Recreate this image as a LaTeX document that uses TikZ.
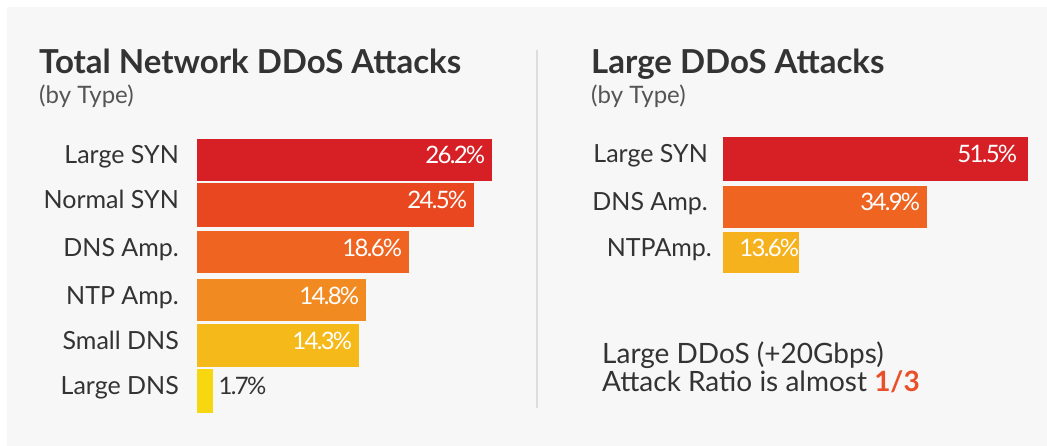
\documentclass[tikz,border=0pt]{standalone}
\usepackage{fontspec}
\setmainfont{Lato}
\usepackage{xcolor}
\usepackage{tikz}
\usetikzlibrary{positioning}

\definecolor{pagebg}{HTML}{F7F7F7}
\definecolor{inkgray}{HTML}{333333}
\definecolor{subgray}{HTML}{555555}
\definecolor{rulegray}{HTML}{DDDDDD}
\definecolor{barred}{HTML}{D71F26}
\definecolor{barredorange}{HTML}{E9471F}
\definecolor{barorange}{HTML}{EF6421}
\definecolor{barlightorange}{HTML}{F28A22}
\definecolor{baramber}{HTML}{F5B919}
\definecolor{baryellow}{HTML}{F7D70F}
\definecolor{barntp}{HTML}{F5B21C}
\definecolor{ratiored}{HTML}{E9502A}

\newfontfamily\pctfont[LetterSpace=-7]{Lato}

\tikzset{
    bar/.style={rectangle,inner sep=0pt,minimum height=42pt,anchor=west},
    lbl/.style={inner sep=0pt,text=inkgray,font=\fontsize{25}{28}\selectfont,
        text height=0.72em,text depth=0pt},
    pct/.style={inner sep=0pt,text=white,font=\pctfont\fontsize{24}{27}\selectfont,
        text height=0.72em,text depth=0pt},
    pctout/.style={pct,text=inkgray},
    heading/.style={inner sep=0pt,anchor=base west,text=inkgray,
        font=\fontsize{33}{36}\selectfont\bfseries},
    subheading/.style={inner sep=0pt,anchor=base west,text=subgray,
        font=\fontsize{24}{27}\selectfont},
    note/.style={inner sep=0pt,anchor=base west,text=inkgray,
        font=\fontsize{28}{31}\selectfont}
}

\begin{document}
\begin{tikzpicture}[x=1pt,y=-1pt]
    \useasboundingbox (0,0) rectangle (1047,446);
    \fill[white] (0,0) rectangle (1047,446);
    \fill[pagebg] (7,7) rectangle (1047,446);

    % total network attacks
    \node[heading] (ttitle) at (39,74) {Total Network DDoS Attacks};
    \node[subheading] (tsub) at (39,104) {(by Type)};

    \node[bar,fill=barred,minimum width=295pt] (tlsyn) at (197,160) {};
    \node[bar,fill=barredorange,minimum width=277pt,minimum height=44pt] (tnsyn) at (197,205) {};
    \node[bar,fill=barorange,minimum width=212pt] (tdns) at (197,252.5) {};
    \node[bar,fill=barlightorange,minimum width=169pt] (tntp) at (197,300.5) {};
    \node[bar,fill=baramber,minimum width=162pt,minimum height=43pt] (tsdns) at (197,345.5) {};
    \node[bar,fill=baryellow,minimum width=16pt,minimum height=44pt] (tldns) at (197,391) {};

    \node[lbl,left=18pt of tlsyn] {Large SYN};
    \node[lbl,left=18pt of tnsyn] {Normal SYN};
    \node[lbl,left=18pt of tdns] {DNS Amp.};
    \node[lbl,left=18pt of tntp] {NTP Amp.};
    \node[lbl,left=18pt of tsdns] {Small DNS};
    \node[lbl,left=18pt of tldns] {Large DNS};

    \node[pct,left=7pt of tlsyn.east] {26.2\%};
    \node[pct,left=7pt of tnsyn.east] {24.5\%};
    \node[pct,left=7pt of tdns.east] {18.6\%};
    \node[pct,left=7pt of tntp.east] {14.8\%};
    \node[pct,left=7pt of tsdns.east] {14.3\%};
    \node[pctout,right=5pt of tldns] {1.7\%};

    % divider
    \coordinate (dtop) at (537,50);
    \coordinate (dbot) at (537,408);
    \draw[rulegray,line width=1.2pt] (dtop) -- (dbot);

    % large attacks
    \node[heading] (ltitle) at (591,74) {Large DDoS Attacks};
    \node[subheading] (lsub) at (591,104) {(by Type)};

    \node[bar,fill=barred,minimum width=305pt,minimum height=44pt] (llsyn) at (723,159) {};
    \node[bar,fill=barorange,minimum width=204pt] (ldns) at (723,207) {};
    \node[bar,fill=barntp,minimum width=76pt,minimum height=41pt] (lntp) at (723,252.5) {};

    \node[lbl,left=15pt of llsyn] {Large SYN};
    \node[lbl,left=15pt of ldns] {DNS Amp.};
    \node[lbl,left=11pt of lntp] {NTPAmp.};

    \node[pct,left=11pt of llsyn.east] {51.5\%};
    \node[pct,left=7pt of ldns.east] {34.9\%};
    \node[pct,left=0pt of lntp.east] {13.6\%};

    \node[note] (ratio1) at (602,363) {Large DDoS (+20Gbps)};
    \node[note] (ratio2) at (602,391) {Attack Ratio is almost \textcolor{ratiored}{\bfseries 1/3}};
\end{tikzpicture}
\end{document}
